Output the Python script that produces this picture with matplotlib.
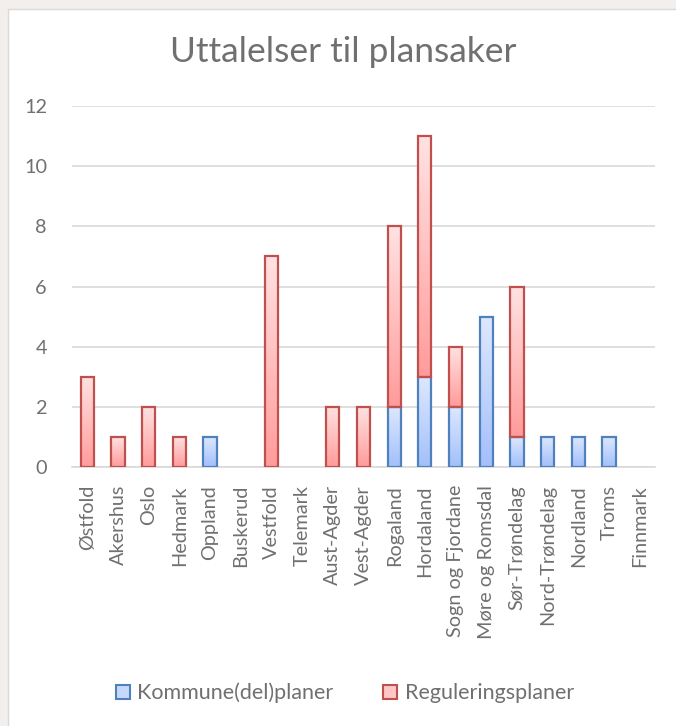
import matplotlib
matplotlib.use("Agg")
import matplotlib.pyplot as plt
import numpy as np
from matplotlib.colors import LinearSegmentedColormap
from matplotlib.patches import Rectangle, Patch

regions = ["Østfold", "Akershus", "Oslo", "Hedmark", "Oppland", "Buskerud", "Vestfold",
           "Telemark", "Aust-Agder", "Vest-Agder", "Rogaland", "Hordaland", "Sogn og Fjordane",
           "Møre og Romsdal", "Sør-Trøndelag", "Nord-Trøndelag", "Nordland", "Troms", "Finnmark"]
kommune = [0, 0, 0, 0, 1, 0, 0, 0, 0, 0, 2, 3, 2, 5, 1, 1, 1, 1, 0]
regulering = [3, 1, 2, 1, 0, 0, 7, 0, 2, 2, 6, 8, 2, 0, 5, 0, 0, 0, 0]
series_names = ["Kommune(del)planer", "Reguleringsplaner"]
yticks = [0, 2, 4, 6, 8, 10, 12]

plt.rcParams['font.family'] = ['Lato', 'DejaVu Sans']
txt = "#707070"

fig = plt.figure(figsize=(6.76, 7.26), dpi=100)
fig.patch.set_facecolor("#f3efec")
panel = Rectangle((8/676, -0.01), 1, 1.01 - 9/726, transform=fig.transFigure,
                  facecolor="white", edgecolor="#d9d9d9", lw=1, zorder=-10)
fig.add_artist(panel)

ax = fig.add_axes([72/676, 1 - 467/726, (655 - 72)/676, (467 - 106)/726])
ax.set_facecolor("none")
ax.set_zorder(1)
x = np.arange(len(regions))
w = 0.43

blue_cm = LinearSegmentedColormap.from_list("b", ["#a3c0fb", "#dde8fe"])
red_cm = LinearSegmentedColormap.from_list("r", ["#ff9c9b", "#ffe2e2"])
grad = np.linspace(0, 1, 64).reshape(-1, 1)

def grad_bars(xs, heights, bottoms, cmap, edge, label):
    bars = ax.bar(xs, heights, w, bottom=bottoms, facecolor="none", edgecolor=edge,
                  linewidth=1.6, label=label, zorder=3)
    for b, h in zip(bars, heights):
        if h <= 0:
            b.set_visible(False)
            continue
        x0, y0 = b.get_x(), b.get_y()
        im = ax.imshow(grad, cmap=cmap, origin="lower", aspect="auto",
                       extent=[x0, x0 + b.get_width(), y0, y0 + b.get_height()], zorder=2)
        im.set_clip_path(b)
    return bars

grad_bars(x, kommune, 0, blue_cm, "#4f81bd", series_names[0])
grad_bars(x, regulering, kommune, red_cm, "#c0504d", series_names[1])

ax.set_xlim(-0.5, len(regions) - 0.5)
ax.set_ylim(0, 12)
ax.set_yticks(yticks)
ax.yaxis.grid(True, color="#d9d9d9", lw=1.2, zorder=0)
ax.set_axisbelow(True)
for s in ["top", "right", "left"]:
    ax.spines[s].set_visible(False)
ax.spines["bottom"].set_color("#d9d9d9")
ax.spines["bottom"].set_linewidth(1.2)
ax.set_xticks(x)
ax.set_xticklabels(regions, rotation=90, fontsize=14.3, color=txt)
ax.tick_params(axis="both", length=0, colors=txt, labelsize=14.3)
ax.tick_params(axis="x", pad=13)
ax.tick_params(axis="y", pad=18)

fig.text(0.508, 1 - 52/726, "Uttalelser til plansaker", ha="center", va="center",
         fontsize=25.5, color=txt)

handles = [Patch(facecolor="#c6d9fd", edgecolor="#4f81bd", lw=1.5),
           Patch(facecolor="#ffc6c6", edgecolor="#c0504d", lw=1.5)]
fig.legend(handles, series_names, loc="center", bbox_to_anchor=(0.51, 1 - 693/726),
           ncol=2, frameon=False, fontsize=15.5, labelcolor=txt,
           handlelength=0.65, handleheight=0.65, handletextpad=0.35, columnspacing=2.3)

fig.savefig("out.png", dpi=100, facecolor=fig.get_facecolor())
